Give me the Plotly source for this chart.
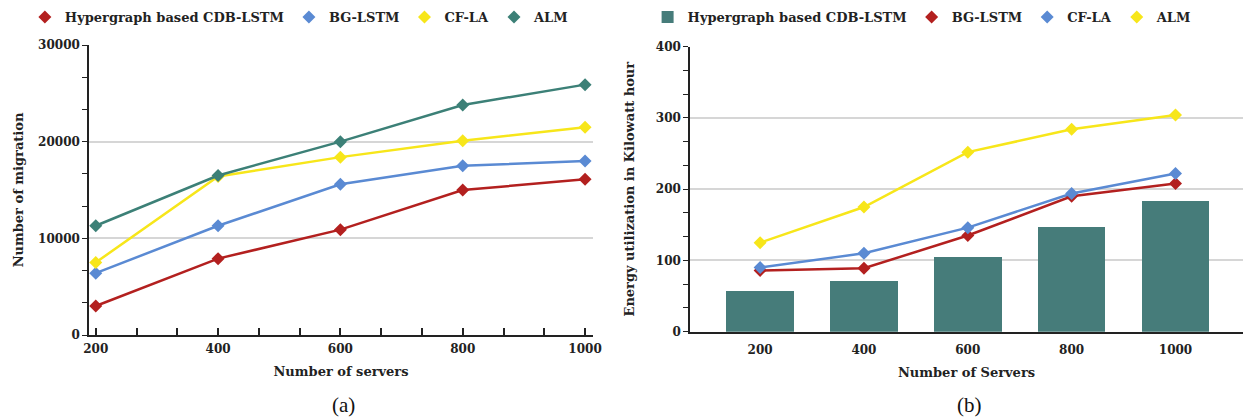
import plotly.graph_objects as go

servers = [200, 400, 600, 800, 1000]

# (a) Number of migration
mig_cdb = [3000, 7900, 10900, 15000, 16100]
mig_bg = [6400, 11300, 15600, 17500, 18000]
mig_cf = [7500, 16400, 18400, 20100, 21500]
mig_alm = [11300, 16500, 20000, 23800, 25900]

# (b) Energy utilization (kWh)
en_cdb = [58, 72, 105, 148, 184]
en_bg = [86, 89, 135, 190, 208]
en_cf = [90, 110, 146, 194, 222]
en_alm = [125, 175, 252, 284, 304]

RED = "#B3201F"
BLUE = "#5A8AD3"
YELLOW = "#F7E61A"
TEAL = "#3C8077"
BAR = "#467C7A"

FONT = "DejaVu Serif"
fig = go.Figure()

def add_series(x, y, name, color, xa, ya, legend):
    fig.add_trace(go.Scatter(x=x, y=y, mode="lines", line=dict(color=color, width=2.5),
                             xaxis=xa, yaxis=ya, showlegend=False, hoverinfo="skip"))
    fig.add_trace(go.Scatter(x=x, y=y, mode="markers", name=name,
                             marker=dict(symbol="diamond", size=10, color=color),
                             xaxis=xa, yaxis=ya, legend=legend))

add_series(servers, mig_cdb, "Hypergraph based CDB-LSTM", RED, "x", "y", "legend")
add_series(servers, mig_bg, "BG-LSTM", BLUE, "x", "y", "legend")
add_series(servers, mig_cf, "CF-LA", YELLOW, "x", "y", "legend")
add_series(servers, mig_alm, "ALM", TEAL, "x", "y", "legend")

fig.add_trace(go.Bar(x=servers, y=en_cdb, name="Hypergraph based CDB-LSTM", marker=dict(color=BAR, line=dict(width=0)),
                     width=130, xaxis="x2", yaxis="y2", legend="legend2"))
add_series(servers, en_bg, "BG-LSTM", RED, "x2", "y2", "legend2")
add_series(servers, en_cf, "CF-LA", BLUE, "x2", "y2", "legend2")
add_series(servers, en_alm, "ALM", YELLOW, "x2", "y2", "legend2")

tickfont = dict(family=FONT, size=12, color="#222222", weight="bold")
titlefont = dict(family=FONT, size=13, color="#222222", weight="bold")
legfont = dict(family=FONT, size=13, color="#222222", weight="bold")

fig.update_layout(
    width=1243, height=419,
    margin=dict(l=0, r=0, t=0, b=0),
    paper_bgcolor="white", plot_bgcolor="white",
    xaxis=dict(domain=[89/1243, 593/1243], range=[189, 1013], anchor="y", automargin=False,
               tickvals=servers, ticks="inside", ticklen=0, tickfont=tickfont, ticklabelstandoff=2,
               showline=True, linecolor="#222222", linewidth=2, showgrid=False, zeroline=False,
               minor=dict(tick0=200, dtick=200/3, ticks="inside", ticklen=7, tickcolor="#222222", tickwidth=1.5, showgrid=False),
               title=dict(text="Number of servers", font=titlefont, standoff=11)),
    yaxis=dict(domain=[1-335/419, 1-45/419], range=[0, 30000], anchor="x", automargin=False,
               tickvals=[0, 10000, 20000, 30000], tickformat="d", ticks="outside", ticklen=5, tickcolor="#222222", tickfont=tickfont,
               showline=True, linecolor="#222222", linewidth=1.5, showgrid=True, gridcolor="#D6D6D6", gridwidth=1.5,
               zeroline=False,
               minor=dict(tick0=0, dtick=10000/3, ticks="outside", ticklen=5, tickcolor="#222222", showgrid=False),
               title=dict(text="Number of migration", font=titlefont, standoff=12)),
    xaxis2=dict(domain=[690/1243, 1.0], range=[65, 1130], anchor="y2", automargin=False,
                tickvals=servers, ticks="", tickfont=tickfont, ticklabelstandoff=6,
                showline=True, linecolor="#222222", linewidth=2, showgrid=False, zeroline=False,
                title=dict(text="Number of Servers", font=titlefont, standoff=12)),
    yaxis2=dict(domain=[1-331.7/419, 1-46.7/419], range=[0, 400], anchor="x2", automargin=False,
                tickvals=[0, 100, 200, 300, 400], ticks="outside", ticklen=5, tickcolor="#222222", tickfont=tickfont,
                showline=True, linecolor="#222222", linewidth=1.5, showgrid=True, gridcolor="#D6D6D6", gridwidth=1.5,
                zeroline=False,
                minor=dict(tick0=0, dtick=100/3, ticks="outside", ticklen=5, tickcolor="#222222", showgrid=False),
                title=dict(text="Energy utilization in Kilowatt hour", font=titlefont, standoff=18)),
    legend=dict(orientation="h", x=0.020, y=0.995, xanchor="left", yanchor="top", font=legfont,
                bgcolor="rgba(0,0,0,0)", itemwidth=30),
    legend2=dict(orientation="h", x=0.521, y=0.995, xanchor="left", yanchor="top", font=legfont,
                 bgcolor="rgba(0,0,0,0)", itemwidth=30),
    bargap=0,
    annotations=[
        dict(text="(a)", x=343/1243, y=1-405/419, xref="paper", yref="paper", showarrow=False,
             xanchor="center", yanchor="middle",
             font=dict(family="Liberation Serif", size=21, color="#111111")),
        dict(text="(b)", x=969/1243, y=1-405/419, xref="paper", yref="paper", showarrow=False,
             xanchor="center", yanchor="middle",
             font=dict(family="Liberation Serif", size=21, color="#111111")),
    ],
)

fig.write_html("out.html", config={"displayModeBar": False},
               post_script="document.body.style.margin='0';document.body.style.overflow='hidden';")
